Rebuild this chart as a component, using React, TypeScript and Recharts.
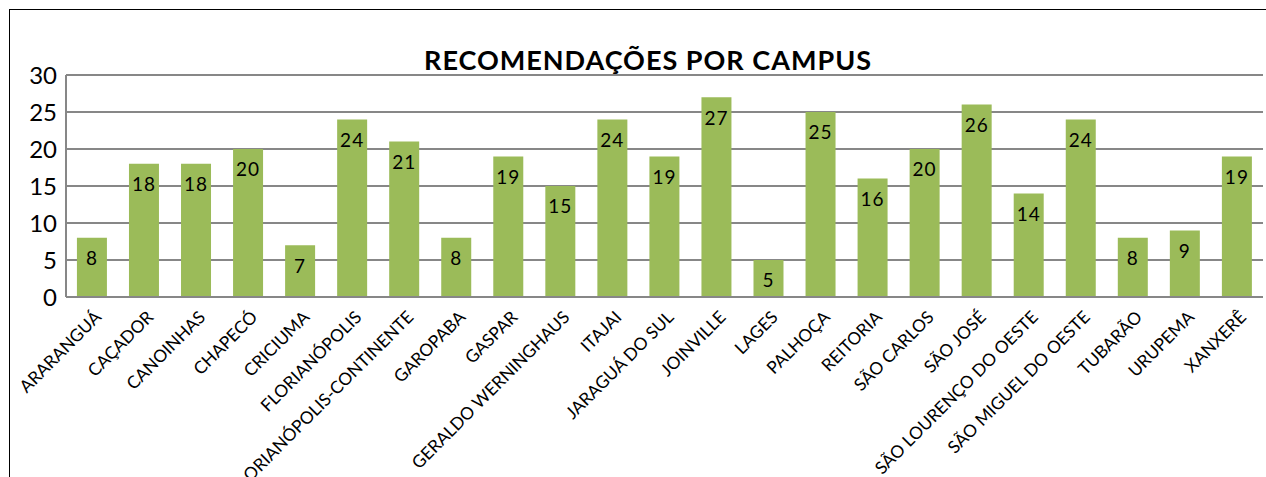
import React from 'react';
import { BarChart, Bar, XAxis, YAxis, CartesianGrid, LabelList } from 'recharts';

const campuses = [
  'ARARANGUÁ', 'CAÇADOR', 'CANOINHAS', 'CHAPECÓ', 'CRICIUMA', 'FLORIANÓPOLIS',
  'FLORIANÓPOLIS-CONTINENTE', 'GAROPABA', 'GASPAR', 'GERALDO WERNINGHAUS', 'ITAJAI',
  'JARAGUÁ DO SUL', 'JOINVILLE', 'LAGES', 'PALHOÇA', 'REITORIA', 'SÃO CARLOS',
  'SÃO JOSÉ', 'SÃO LOURENÇO DO OESTE', 'SÃO MIGUEL DO OESTE', 'TUBARÃO', 'URUPEMA', 'XANXERÊ',
];
const recommendations = [8, 18, 18, 20, 7, 24, 21, 8, 19, 15, 24, 19, 27, 5, 25, 16, 20, 26, 14, 24, 8, 9, 19];
const yTicks = [0, 5, 10, 15, 20, 25, 30];

const FONT = 'Lato, "Open Sans", sans-serif';

const chartData = campuses.map((name, i) => ({ name, value: recommendations[i] }));

const CampusTick = (props: any) => {
  const { x, y, payload } = props;
  return (
    <g transform={`translate(${x + 6},${y + 17})`}>
      <text transform="rotate(-45)" textAnchor="end" dy="0.35em" fontSize={17.3} fontFamily={FONT} fill="#000">
        {payload.value}
      </text>
    </g>
  );
};

const App: React.FC = () => {
  return (
    <div style={{ position: 'absolute', left: 0, top: 0, width: 1266, height: 477, overflow: 'hidden', background: '#fff' }}>
      {/* chart frame, only top and left edges fall inside the crop */}
      <div style={{ position: 'absolute', left: 9, top: 9, width: 1300, height: 520, borderLeft: '1px solid #000', borderTop: '1px solid #000' }} />
      <div
        style={{
          position: 'absolute', left: 348, top: 42, width: 600, textAlign: 'center',
          fontFamily: FONT, fontWeight: 700, fontSize: 27, letterSpacing: 1, color: '#000', lineHeight: '36px',
        }}
      >
        RECOMENDAÇÕES POR CAMPUS
      </div>
      <div style={{ position: 'absolute', left: 0, top: 0 }}>
        <BarChart width={1266} height={477} data={chartData} margin={{ top: 75, right: 3, left: 0, bottom: 0 }} barCategoryGap="21%">
          <CartesianGrid horizontal vertical={false} stroke="#878787" strokeWidth={2} />
          <XAxis
            dataKey="name"
            interval={0}
            height={180}
            tick={<CampusTick />}
            tickLine={false}
            tickSize={0}
            tickMargin={0}
            axisLine={{ stroke: '#878787', strokeWidth: 2 }}
          />
          <YAxis
            domain={[0, 30]}
            ticks={yTicks}
            width={66}
            tickLine={false}
            tickSize={0}
            tickMargin={9}
            axisLine={{ stroke: '#878787', strokeWidth: 2 }}
            tick={{ fontSize: 24, fontFamily: FONT, fill: '#000' }}
          />
          <Bar dataKey="value" fill="#9BBB59" isAnimationActive={false}>
            <LabelList dataKey="value" position="insideTop" offset={14} fill="#000" fontSize={19} fontFamily={FONT} letterSpacing={1} />
          </Bar>
        </BarChart>
      </div>
    </div>
  );
};

export default App;
